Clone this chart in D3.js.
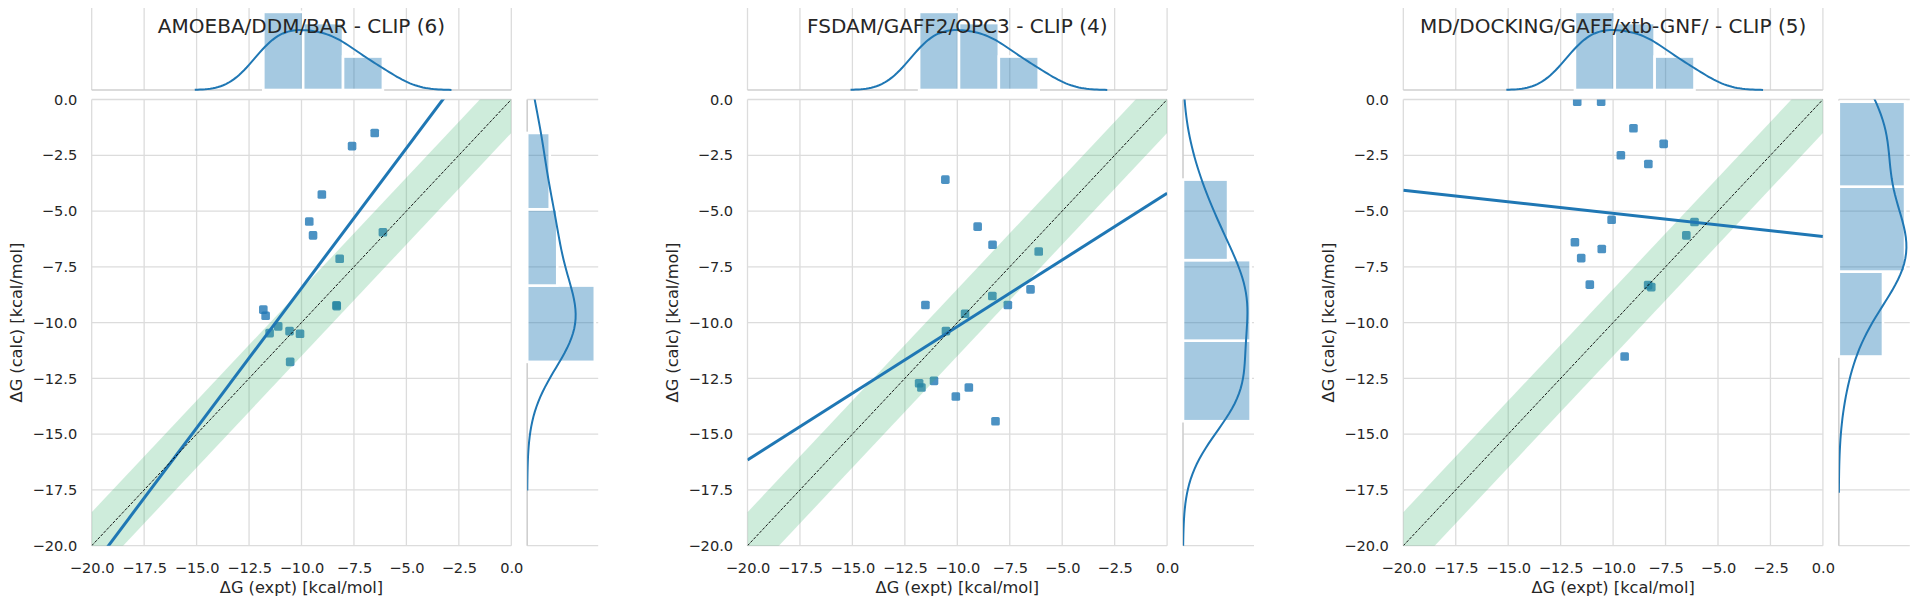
<!DOCTYPE html>
<html>
<head>
<meta charset="utf-8">
<script src="https://cdn.jsdelivr.net/npm/d3@7"></script>
<style>
  body { margin: 0; background: #fff; }
  svg { display: block; font-family: "DejaVu Sans", sans-serif; }
</style>
</head>
<body>
<svg id="chart" width="1920" height="606"></svg>
<script>
// panel titles
const titles = [
  "AMOEBA/DDM/BAR - CLIP (6)",
  "FSDAM/GAFF2/OPC3 - CLIP (4)",
  "MD/DOCKING/GAFF/xtb-GNF/ - CLIP (5)"
];

// experimental dG, shared by all three panels (kcal/mol)
const expt = [-11.82, -11.71, -11.52, -11.11, -10.57, -10.54, -10.07, -9.63,
              -9.45, -9.03, -8.33, -8.32, -8.18, -7.59, -6.51, -6.12];

// calculated dG for each method, same order as expt
const calcAmoeba = [-9.42, -9.69, -10.47, -10.17, -10.38, -11.76, -10.50, -5.47,
                    -6.09, -4.26, -9.22, -9.26, -7.14, -2.09, -1.50, -5.95];
const calcFsdam = [-12.72, -12.91, -9.21, -12.61, -3.59, -10.38, -13.31, -9.60,
                   -12.91, -5.70, -8.81, -6.51, -14.42, -9.21, -8.51, -6.81];
const calcMdDock = [-6.40, -0.10, -7.11, -8.30, -0.10, -6.70, -5.39, -2.50,
                    -11.52, -1.29, -8.32, -2.89, -8.41, -1.99, -6.09, -5.49];

const axisTicks = [-20, -17.5, -15, -12.5, -10, -7.5, -5, -2.5, 0];
const axisRange = [-20, 0];
const band = 1.5; // +/- kcal/mol shaded around y = x

const xLabel = "ΔG (expt) [kcal/mol]";
const yLabel = "ΔG (calc) [kcal/mol]";

// layout (px)
const panelLeft = [91.7, 747.5, 1403.3];
const mainTop = 99.5, W = 419.6, H = 446.2;
const topMargTop = 8, topMargBottom = 90;
const rightGap = 15.9, rightW = 71;

const blue = "#1f77b4";
const gridColor = "#dcdcdc";
const textColor = "#262626";

const svg = d3.select("#chart");
svg.append("rect").attr("width", 1920).attr("height", 606).attr("fill", "#fff");

// gaussian kde, statsmodels-style scott bandwidth, cut = 3
function kde(values) {
  const n = values.length;
  const sd = d3.deviation(values);
  const iqr = (d3.quantile(values, 0.75) - d3.quantile(values, 0.25)) / 1.349;
  const bw = 1.059 * Math.min(sd, iqr) * Math.pow(n, -0.2);
  const lo = d3.min(values) - 3 * bw, hi = d3.max(values) + 3 * bw;
  return d3.range(100).map(i => {
    const g = lo + (hi - lo) * i / 99;
    const dens = d3.mean(values, v => Math.exp(-0.5 * ((g - v) / bw) ** 2)) / (bw * Math.sqrt(2 * Math.PI));
    return [g, dens];
  });
}

// 3 equal bins, density normalised
function hist(values) {
  const lo = d3.min(values), hi = d3.max(values), w = (hi - lo) / 3;
  const bins = d3.bin().domain([lo, hi]).thresholds([lo + w, lo + 2 * w])(values);
  return bins.map(b => ({ x0: b.x0, x1: b.x1, d: b.length / (values.length * w) }));
}

function linfit(xs, ys) {
  const mx = d3.mean(xs), my = d3.mean(ys);
  const sxy = d3.sum(xs, (x, i) => (x - mx) * (ys[i] - my));
  const sxx = d3.sum(xs, x => (x - mx) ** 2);
  const slope = sxy / sxx;
  return x => my + slope * (x - mx);
}

function drawPanel(i, title, calc) {
  const g = svg.append("g").attr("transform", `translate(${panelLeft[i]},0)`);
  const x = d3.scaleLinear().domain(axisRange).range([0, W]);
  const y = d3.scaleLinear().domain(axisRange).range([mainTop + H, mainTop]);

  // ---------- main axes ----------
  const grid = g.append("g").attr("stroke", gridColor).attr("stroke-width", 1.3);
  grid.selectAll(".vx").data(axisTicks).join("line")
    .attr("x1", d => x(d)).attr("x2", d => x(d))
    .attr("y1", mainTop).attr("y2", mainTop + H);
  grid.selectAll(".hy").data(axisTicks).join("line")
    .attr("x1", 0).attr("x2", W)
    .attr("y1", d => y(d)).attr("y2", d => y(d));

  const clipId = "clip" + i;
  g.append("clipPath").attr("id", clipId).append("rect")
    .attr("x", 0).attr("y", mainTop).attr("width", W).attr("height", H);
  const plot = g.append("g").attr("clip-path", `url(#${clipId})`);

  const pts = expt.map((e, k) => [e, calc[k]]);
  const sq = 8.6;
  plot.selectAll("rect.pt").data(pts).join("rect")
    .attr("class", "pt")
    .attr("x", d => x(d[0]) - sq / 2).attr("y", d => y(d[1]) - sq / 2)
    .attr("width", sq).attr("height", sq).attr("rx", 1.6)
    .attr("fill", blue).attr("fill-opacity", 0.8);

  const bandArea = d3.area()
    .x(d => x(d)).y0(d => y(d - band)).y1(d => y(d + band));
  plot.append("path").datum(axisRange).attr("d", bandArea)
    .attr("fill", "#3cb371").attr("fill-opacity", 0.25);

  const fit = linfit(expt, calc);
  plot.append("path").datum(axisRange)
    .attr("d", d3.line().x(d => x(d)).y(d => y(fit(d))))
    .attr("stroke", blue).attr("stroke-width", 3).attr("fill", "none");

  plot.append("path").datum(axisRange)
    .attr("d", d3.line().x(d => x(d)).y(d => y(d)))
    .attr("stroke", "#000").attr("stroke-width", 0.9)
    .attr("stroke-dasharray", "3,1.4").attr("fill", "none");

  // axes text
  const fmt = d3.format(".1f");
  const xAxis = g.append("g").attr("transform", `translate(0,${mainTop + H})`)
    .call(d3.axisBottom(x).tickValues(axisTicks).tickFormat(fmt).tickSize(0).tickPadding(17));
  const yAxis = g.append("g")
    .call(d3.axisLeft(y).tickValues(axisTicks).tickFormat(fmt).tickSize(0).tickPadding(14.4));
  [xAxis, yAxis].forEach(a => {
    a.select(".domain").remove();
    a.selectAll("text").attr("fill", textColor).style("font-size", "14.6px")
      .style("font-family", "DejaVu Sans");
  });

  g.append("text").attr("x", W / 2).attr("y", 593)
    .attr("text-anchor", "middle").attr("fill", textColor)
    .style("font-size", "16.2px").text(xLabel);
  g.append("text")
    .attr("transform", `translate(${-69.5},${mainTop + H / 2}) rotate(-90)`)
    .attr("text-anchor", "middle").attr("fill", textColor)
    .style("font-size", "16.2px").text(yLabel);

  // ---------- top marginal (expt) ----------
  const hx = hist(expt), kx = kde(expt);
  const topMax = 1.05 * Math.max(d3.max(hx, b => b.d), d3.max(kx, p => p[1]));
  const yt = d3.scaleLinear().domain([0, topMax]).range([topMargBottom, topMargTop]);
  const top = g.append("g");
  top.selectAll("line").data(axisTicks).join("line")
    .attr("x1", d => x(d)).attr("x2", d => x(d))
    .attr("y1", topMargTop).attr("y2", topMargBottom)
    .attr("stroke", gridColor).attr("stroke-width", 1.3);
  top.append("line").attr("x1", 0).attr("x2", W)
    .attr("y1", topMargBottom).attr("y2", topMargBottom)
    .attr("stroke", "#cfcfcf").attr("stroke-width", 1.6);
  top.selectAll("rect").data(hx).join("rect")
    .attr("x", b => x(b.x0)).attr("width", b => x(b.x1) - x(b.x0))
    .attr("y", b => yt(b.d)).attr("height", b => yt(0) - yt(b.d))
    .attr("fill", blue).attr("fill-opacity", 0.4)
    .attr("stroke", "#fff").attr("stroke-width", 2.6);
  top.append("path").datum(kx)
    .attr("d", d3.line().x(p => x(p[0])).y(p => yt(p[1])))
    .attr("stroke", blue).attr("stroke-width", 2).attr("fill", "none");

  // title
  g.append("text").attr("x", W / 2).attr("y", 33.3)
    .attr("text-anchor", "middle").attr("fill", textColor)
    .style("font-size", "20px").text(title);

  // ---------- right marginal (calc) ----------
  const hy = hist(calc), ky = kde(calc);
  const rightMax = 1.05 * Math.max(d3.max(hy, b => b.d), d3.max(ky, p => p[1]));
  const rx0 = W + rightGap;
  const xr = d3.scaleLinear().domain([0, rightMax]).range([rx0, rx0 + rightW]);
  const right = g.append("g");
  right.selectAll("line.h").data(axisTicks).join("line").attr("class", "h")
    .attr("x1", rx0).attr("x2", rx0 + rightW)
    .attr("y1", d => y(d)).attr("y2", d => y(d))
    .attr("stroke", gridColor).attr("stroke-width", 1.3);
  right.append("line").attr("x1", rx0).attr("x2", rx0)
    .attr("y1", mainTop).attr("y2", mainTop + H)
    .attr("stroke", "#cfcfcf").attr("stroke-width", 1.6);
  right.selectAll("rect").data(hy).join("rect")
    .attr("x", xr(0)).attr("width", b => xr(b.d) - xr(0))
    .attr("y", b => y(b.x1)).attr("height", b => y(b.x0) - y(b.x1))
    .attr("fill", blue).attr("fill-opacity", 0.4)
    .attr("stroke", "#fff").attr("stroke-width", 2.6);
  const rclip = "rclip" + i;
  g.append("clipPath").attr("id", rclip).append("rect")
    .attr("x", rx0).attr("y", mainTop).attr("width", rightW + 20).attr("height", H);
  right.append("path").datum(ky).attr("clip-path", `url(#${rclip})`)
    .attr("d", d3.line().x(p => xr(p[1])).y(p => y(p[0])))
    .attr("stroke", blue).attr("stroke-width", 2).attr("fill", "none");
}

drawPanel(0, titles[0], calcAmoeba);
drawPanel(1, titles[1], calcFsdam);
drawPanel(2, titles[2], calcMdDock);
</script>
</body>
</html>
